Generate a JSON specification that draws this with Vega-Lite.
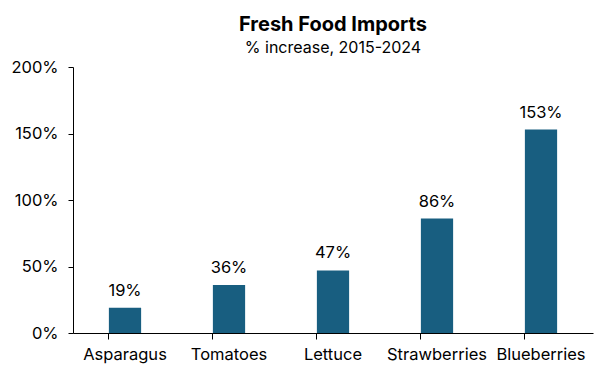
{
  "$schema": "https://vega.github.io/schema/vega-lite/v6.json",
  "width": 520,
  "height": 266,
  "autosize": "none",
  "padding": {"left": 73, "top": 67, "right": 9, "bottom": 51},
  "background": "white",
  "config": {"view": {"stroke": null}, "font": "Inter"},
  "title": {
    "text": "Fresh Food Imports",
    "subtitle": "% increase, 2015-2024",
    "anchor": "middle",
    "fontSize": 20,
    "fontWeight": "bold",
    "color": "black",
    "subtitleFontSize": 16,
    "subtitleColor": "black",
    "subtitlePadding": 5,
    "offset": 3
  },
  "data": {
    "values": [
      {"item": "Asparagus", "pct": 19},
      {"item": "Tomatoes", "pct": 36},
      {"item": "Lettuce", "pct": 47},
      {"item": "Strawberries", "pct": 86},
      {"item": "Blueberries", "pct": 153}
    ]
  },
  "encoding": {
    "x": {
      "field": "item",
      "type": "nominal",
      "sort": null,
      "scale": {"paddingInner": 0.69, "paddingOuter": 0.345},
      "axis": {
        "title": null,
        "labelAngle": 0,
        "labelFontSize": 16.5,
        "labelColor": "black",
        "labelPadding": 7,
        "domainColor": "black",
        "tickColor": "black",
        "tickSize": 6,
        "bandPosition": 0
      }
    },
    "y": {
      "field": "pct",
      "type": "quantitative",
      "scale": {"domain": [0, 200]},
      "axis": {
        "title": null,
        "values": [0, 50, 100, 150, 200],
        "labelExpr": "datum.value + '%'",
        "grid": false,
        "labelFontSize": 16.5,
        "labelColor": "black",
        "labelPadding": 10,
        "domainColor": "black",
        "tickColor": "black",
        "tickSize": 5
      }
    }
  },
  "layer": [
    {"mark": {"type": "bar", "color": "#185e80"}},
    {
      "mark": {"type": "text", "baseline": "bottom", "dy": -9, "fontSize": 16.5, "color": "black", "text": {"expr": "datum.pct + '%'"}}
    }
  ]
}
